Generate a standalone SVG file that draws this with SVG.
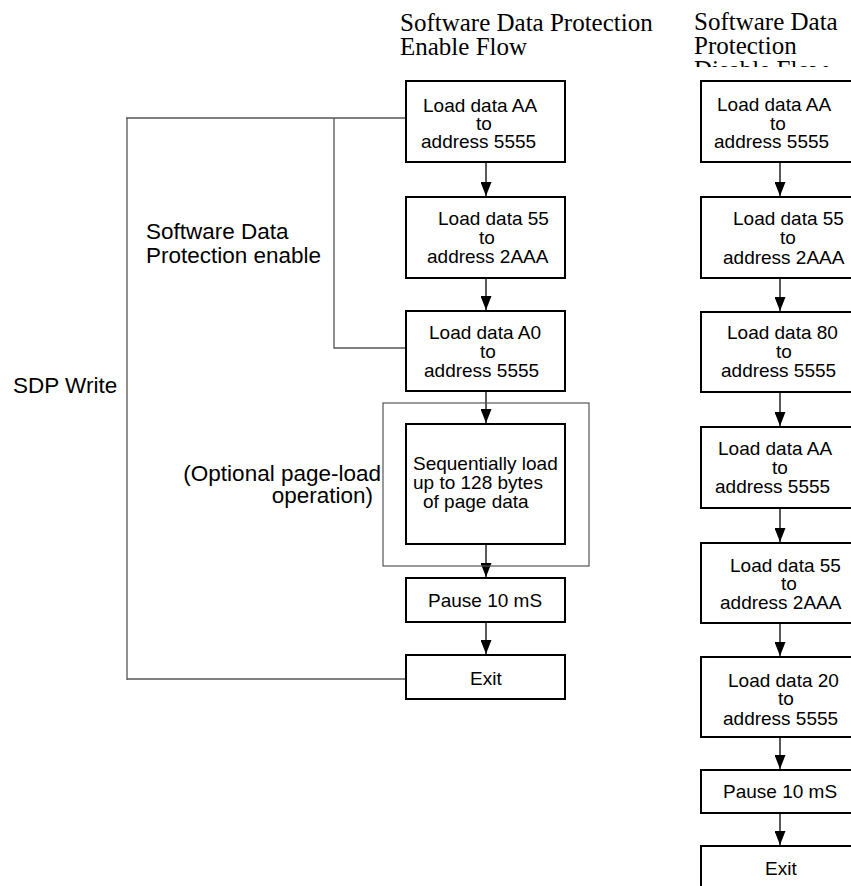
<svg xmlns="http://www.w3.org/2000/svg" width="851" height="886" viewBox="0 0 851 886">
<style>
.box{fill:#fff;stroke:#000;stroke-width:2}
.grp{fill:none;stroke:#555;stroke-width:1.2}
.br{fill:none;stroke:#555;stroke-width:1.3}
.ar{fill:none;stroke:#000;stroke-width:1.3}
.t{font-family:"Liberation Sans",Arial,sans-serif;font-size:19px;fill:#000}
.lab{font-family:"Liberation Sans",Arial,sans-serif;font-size:22.5px;fill:#000}
.ttl{font-family:"Liberation Serif","Times New Roman",serif;font-size:25px;fill:#000}
</style>
<defs>
<marker id="ah" markerUnits="userSpaceOnUse" markerWidth="14" markerHeight="11" refX="14" refY="5.5" orient="auto" viewBox="0 0 14 11"><path d="M0,0 L14,5.5 L0,11 Z" fill="#000"/></marker>
<clipPath id="clipT"><rect x="600" y="0" width="251" height="67"/></clipPath>
</defs>
<rect width="851" height="886" fill="#fff"/>
<g id="titles">
<text class="ttl" x="400" y="31">Software Data Protection</text>
<text class="ttl" x="400" y="55">Enable Flow</text>
<g clip-path="url(#clipT)">
<text class="ttl" x="694" y="30">Software Data</text>
<text class="ttl" x="694" y="54">Protection</text>
<text class="ttl" x="694" y="78">Disable Flow</text>
</g>
</g>
<g id="labels">
<text class="lab" x="13" y="393">SDP Write</text>
<text class="lab" x="146" y="239">Software Data</text>
<text class="lab" x="146" y="263">Protection enable</text>
<text class="lab" x="381" y="481" text-anchor="end">(Optional page-load</text>
<text class="lab" x="373" y="503" text-anchor="end">operation)</text>
</g>
<g id="connectors">
<path class="br" d="M126,118 H406 M127,118 V680 M127,679 H406 M334,118 V348 H406"/>
<path class="ar" d="M486,162 V196" marker-end="url(#ah)"/>
<path class="ar" d="M486,278 V310" marker-end="url(#ah)"/>
<path class="ar" d="M486,391 V423" marker-end="url(#ah)"/>
<path class="ar" d="M486,544 V577" marker-end="url(#ah)"/>
<path class="ar" d="M486,622 V654" marker-end="url(#ah)"/>
<path class="ar" d="M780,162 V196" marker-end="url(#ah)"/>
<path class="ar" d="M780,278 V311" marker-end="url(#ah)"/>
<path class="ar" d="M780,392 V426" marker-end="url(#ah)"/>
<path class="ar" d="M780,508 V542" marker-end="url(#ah)"/>
<path class="ar" d="M780,623 V656" marker-end="url(#ah)"/>
<path class="ar" d="M780,737 V769" marker-end="url(#ah)"/>
<path class="ar" d="M780,813 V845" marker-end="url(#ah)"/>
</g>
<g id="optional-group"><rect class="grp" x="383" y="403" width="206" height="163"/></g>
<g id="L1"><rect class="box" x="406" y="81" width="159" height="81"/>
<text class="t" x="423" y="112">Load data AA</text><text class="t" x="476" y="130">to</text><text class="t" x="421" y="148">address 5555</text></g>
<g id="L2"><rect class="box" x="406" y="197" width="159" height="81"/>
<text class="t" x="438" y="225">Load data 55</text><text class="t" x="479" y="244">to</text><text class="t" x="427" y="263">address 2AAA</text></g>
<g id="L3"><rect class="box" x="406" y="311" width="159" height="80"/>
<text class="t" x="429" y="339">Load data A0</text><text class="t" x="480" y="358">to</text><text class="t" x="424" y="377">address 5555</text></g>
<g id="L4"><rect class="box" x="406" y="424" width="159" height="120"/>
<text class="t" x="413" y="470">Sequentially load</text><text class="t" x="413" y="489">up to 128 bytes</text><text class="t" x="423" y="508">of page data</text></g>
<g id="L5"><rect class="box" x="406" y="578" width="159" height="44"/>
<text class="t" x="428" y="607">Pause 10 mS</text></g>
<g id="L6"><rect class="box" x="406" y="655" width="159" height="44"/>
<text class="t" x="470" y="685">Exit</text></g>
<g id="R1"><rect class="box" x="701" y="81" width="159" height="81"/>
<text class="t" x="717" y="111">Load data AA</text><text class="t" x="770" y="130">to</text><text class="t" x="714" y="148">address 5555</text></g>
<g id="R2"><rect class="box" x="701" y="197" width="159" height="81"/>
<text class="t" x="733" y="225">Load data 55</text><text class="t" x="780" y="244">to</text><text class="t" x="723" y="264">address 2AAA</text></g>
<g id="R3"><rect class="box" x="701" y="312" width="159" height="80"/>
<text class="t" x="727" y="339">Load data 80</text><text class="t" x="776" y="358">to</text><text class="t" x="721" y="377">address 5555</text></g>
<g id="R4"><rect class="box" x="701" y="427" width="159" height="81"/>
<text class="t" x="718" y="455">Load data AA</text><text class="t" x="772" y="474">to</text><text class="t" x="715" y="493">address 5555</text></g>
<g id="R5"><rect class="box" x="701" y="543" width="159" height="80"/>
<text class="t" x="730" y="572">Load data 55</text><text class="t" x="781" y="590">to</text><text class="t" x="720" y="609">address 2AAA</text></g>
<g id="R6"><rect class="box" x="701" y="657" width="159" height="80"/>
<text class="t" x="728" y="687">Load data 20</text><text class="t" x="778" y="705">to</text><text class="t" x="723" y="725">address 5555</text></g>
<g id="R7"><rect class="box" x="701" y="770" width="159" height="43"/>
<text class="t" x="723" y="798">Pause 10 mS</text></g>
<g id="R8"><rect class="box" x="701" y="846" width="159" height="44"/>
<text class="t" x="765" y="875">Exit</text></g>
</svg>
